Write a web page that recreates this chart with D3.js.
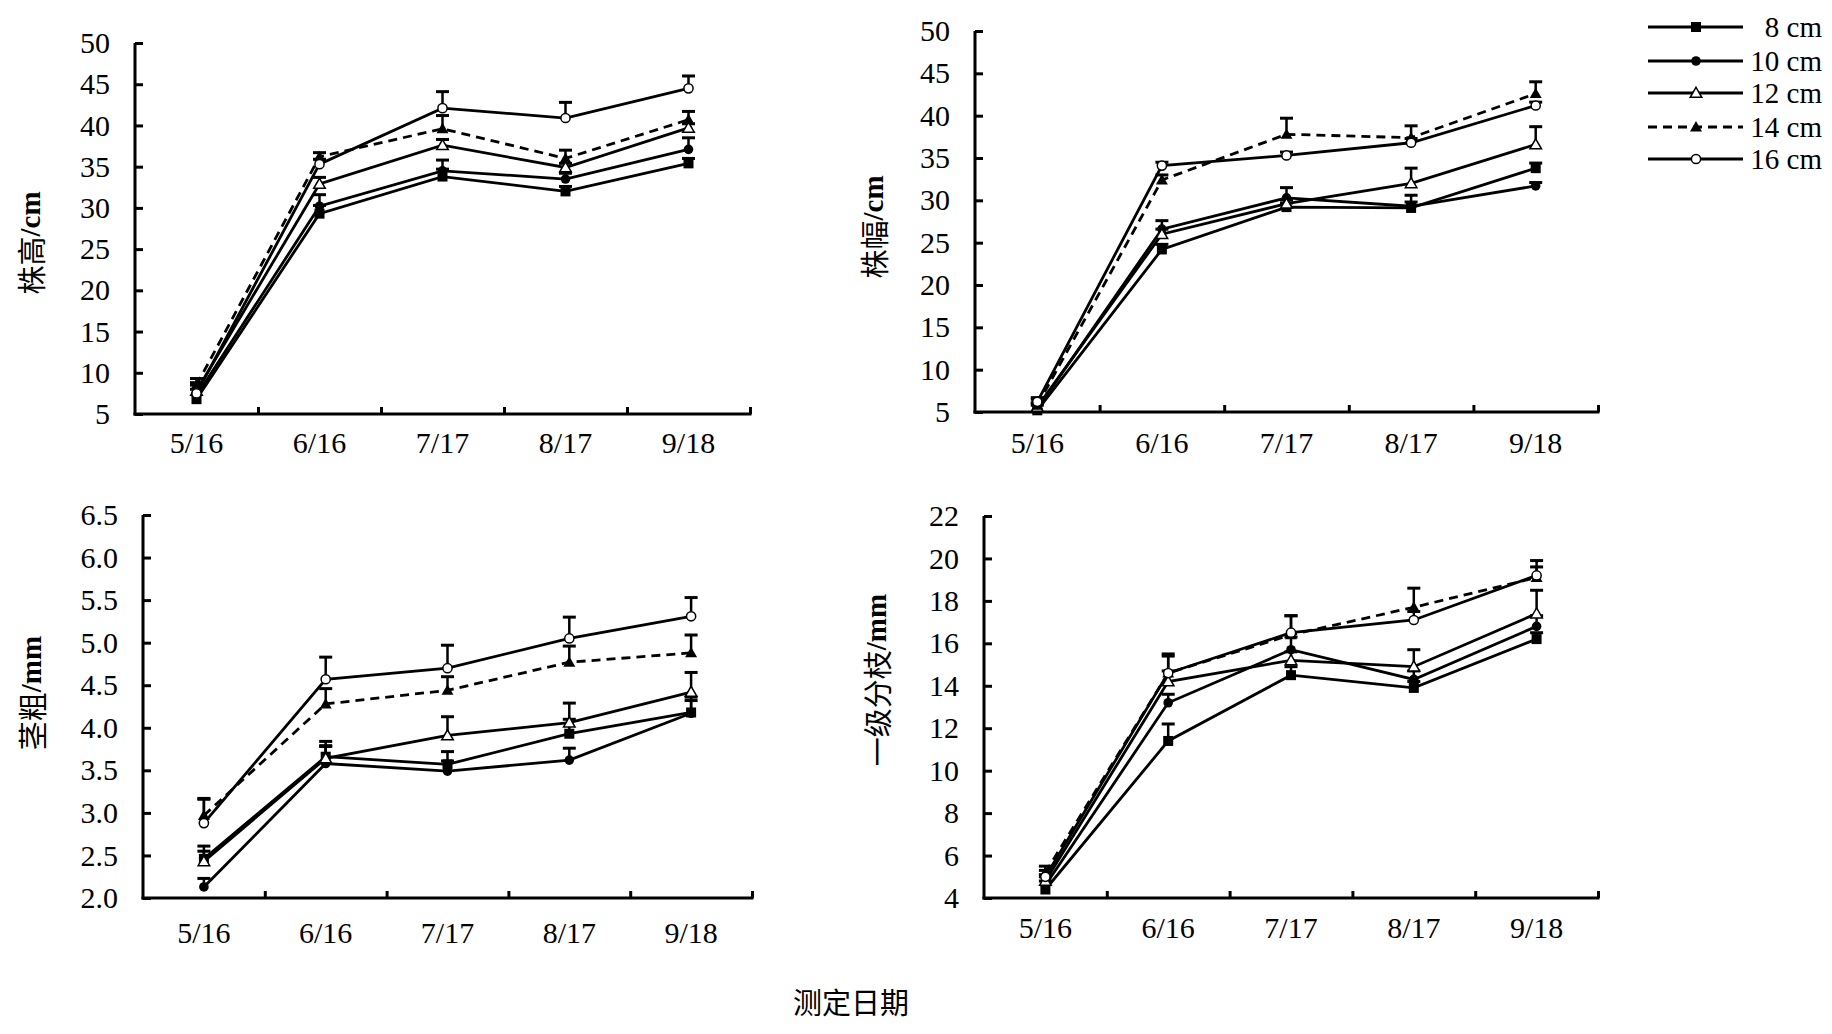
<!DOCTYPE html>
<html><head><meta charset="utf-8">
<script src="https://cdn.jsdelivr.net/npm/d3@7"></script>
<style>
html,body{margin:0;padding:0;background:#fff;}
svg{display:block;}
text{fill:#000;}
</style></head>
<body>
<svg id="chart" width="1832" height="1034"></svg>
<script>
// ---------- data ----------
const dates = ["5/16", "6/16", "7/17", "8/17", "9/18"];
const seriesNames = ["8 cm", "10 cm", "12 cm", "14 cm", "16 cm"];

// 株高 /cm  (rows = 8,10,12,14,16 cm)
const heightVals = [
  [6.8, 29.3, 33.8, 32.0, 35.4],
  [7.2, 30.2, 34.5, 33.5, 37.1],
  [7.8, 32.9, 37.6, 34.9, 39.7],
  [8.5, 36.2, 39.6, 36.0, 40.7],
  [7.5, 35.3, 42.1, 40.9, 44.5]
];
const heightErr = [
  [1.2, 1.0, 0.9, 0.6, 0.6],
  [1.4, 1.4, 1.3, 0.7, 1.4],
  [1.0, 0.8, 0.7, 0.5, 0.5],
  [0.8, 0.5, 1.6, 1.0, 1.0],
  [1.0, 0.6, 2.0, 1.9, 1.5]
];
const heightTicks = [5, 10, 15, 20, 25, 30, 35, 40, 45, 50];

// 株幅 /cm
const widthVals = [
  [5.2, 24.2, 29.2, 29.1, 33.8],
  [5.4, 26.6, 30.3, 29.3, 31.7],
  [5.6, 26.0, 29.6, 32.0, 36.6],
  [5.8, 32.4, 37.8, 37.4, 42.6],
  [6.2, 34.1, 35.3, 36.8, 41.2]
];
const widthErr = [
  [0.6, 0.6, 0.5, 1.5, 0.6],
  [0.6, 1.0, 1.2, 0.5, 0.4],
  [0.5, 0.6, 0.5, 1.8, 2.1],
  [0.7, 0.6, 1.9, 1.4, 1.4],
  [0.5, 0.4, 0.4, 0.5, 0.4]
];
const widthTicks = [5, 10, 15, 20, 25, 30, 35, 40, 45, 50];

// 茎粗 /mm
const diamVals = [
  [2.46, 3.66, 3.57, 3.93, 4.18],
  [2.13, 3.58, 3.49, 3.62, 4.17],
  [2.43, 3.64, 3.91, 4.06, 4.42],
  [2.97, 4.28, 4.44, 4.77, 4.88],
  [2.88, 4.57, 4.70, 5.05, 5.31]
];
const diamErr = [
  [0.15, 0.18, 0.15, 0.17, 0.18],
  [0.10, 0.20, 0.12, 0.14, 0.15],
  [0.12, 0.15, 0.22, 0.23, 0.23],
  [0.20, 0.18, 0.16, 0.19, 0.21],
  [0.28, 0.26, 0.27, 0.25, 0.22]
];
const diamTicks = [2.0, 2.5, 3.0, 3.5, 4.0, 4.5, 5.0, 5.5, 6.0, 6.5];

// 一级分枝 /mm
const branchVals = [
  [4.4, 11.4, 14.5, 13.9, 16.2],
  [4.6, 13.2, 15.7, 14.3, 16.8],
  [4.8, 14.2, 15.2, 14.9, 17.4],
  [5.2, 14.6, 16.4, 17.7, 19.1],
  [5.0, 14.6, 16.5, 17.1, 19.2]
];
const branchErr = [
  [0.4, 0.8, 0.4, 0.3, 0.3],
  [0.4, 0.4, 0.6, 0.4, 0.5],
  [0.3, 0.5, 0.4, 0.8, 1.1],
  [0.3, 0.8, 0.9, 0.9, 0.8],
  [0.3, 0.9, 0.8, 0.4, 0.4]
];
const branchTicks = [4, 6, 8, 10, 12, 14, 16, 18, 20, 22];

// ---------- layout & style ----------
const serif = "'Liberation Serif','Times New Roman',serif";
const cjk = "'Noto Sans CJK SC','Liberation Serif',serif";
const markerTypes = ["square", "circle", "triangleOpen", "triangle", "circleOpen"];
const dashes = [null, null, null, "9,6", null];

const panels = [
  {vals: heightVals, errs: heightErr, ticks: heightTicks, fmt: d3.format("d"),
   cjkTitle: "株高", unit: "/cm", x0: 135, x1: 750, y0: 414, y1: 43, tx: 30, ty: 243, lblPad: 18},
  {vals: widthVals, errs: widthErr, ticks: widthTicks, fmt: d3.format("d"),
   cjkTitle: "株幅", unit: "/cm", x0: 975, x1: 1598, y0: 412, y1: 31, tx: 873, ty: 227, lblPad: 20},
  {vals: diamVals, errs: diamErr, ticks: diamTicks, fmt: d3.format(".1f"),
   cjkTitle: "茎粗", unit: "/mm", x0: 143, x1: 752, y0: 898, y1: 515, tx: 31, ty: 693, lblPad: 24},
  {vals: branchVals, errs: branchErr, ticks: branchTicks, fmt: d3.format("d"),
   cjkTitle: "一级分枝", unit: "/mm", x0: 984, x1: 1598, y0: 898, y1: 516, tx: 876, ty: 680, lblPad: 19}
];

const svg = d3.select("#chart");

function drawMarker(g, type, x, y) {
  const tri = (s) => d3.symbol().type(d3.symbolTriangle).size(s)();
  if (type === "square") {
    g.append("rect").attr("x", x - 5).attr("y", y - 5).attr("width", 10).attr("height", 10)
      .attr("fill", "#000");
  } else if (type === "circle") {
    g.append("circle").attr("cx", x).attr("cy", y).attr("r", 4.8).attr("fill", "#000");
  } else if (type === "circleOpen") {
    g.append("circle").attr("cx", x).attr("cy", y).attr("r", 4.6).attr("fill", "#fff")
      .attr("stroke", "#000").attr("stroke-width", 1.5);
  } else if (type === "triangle") {
    g.append("path").attr("d", tri(62)).attr("transform", `translate(${x},${y + 1})`).attr("fill", "#000");
  } else if (type === "triangleOpen") {
    g.append("path").attr("d", tri(58)).attr("transform", `translate(${x},${y + 1})`).attr("fill", "#fff")
      .attr("stroke", "#000").attr("stroke-width", 1.5);
  }
}

panels.forEach(p => {
  const g = svg.append("g");
  const x = d3.scaleBand().domain(dates).range([p.x0, p.x1]).paddingInner(0).paddingOuter(0);
  const xb = d3.scaleLinear().domain([0, dates.length]).range([p.x0, p.x1]);
  const y = d3.scaleLinear().domain([p.ticks[0], p.ticks[p.ticks.length - 1]]).range([p.y0, p.y1]);
  const cx = d => x(d) + x.bandwidth() / 2;

  // y axis
  const ya = g.append("g").attr("transform", `translate(${p.x0},0)`)
    .call(d3.axisLeft(y).tickValues(p.ticks).tickFormat(p.fmt).tickSize(-8).tickPadding(25).tickSizeOuter(0));
  ya.select(".domain").attr("stroke-width", 3).attr("d", `M0,${p.y0 + 1.5}V${p.y1}`);
  ya.selectAll(".tick line").attr("stroke-width", 3);
  ya.selectAll("text").attr("font-family", serif).attr("font-size", 30);

  // x axis: line + inward ticks at band boundaries
  const xa = g.append("g").attr("transform", `translate(0,${p.y0})`)
    .call(d3.axisBottom(xb).tickValues(d3.range(1, dates.length + 1)).tickFormat("").tickSize(-7).tickSizeOuter(0));
  xa.select(".domain").attr("stroke-width", 3).attr("d", `M${p.x0 - 1.5},0H${p.x1 + 1.5}`);
  xa.selectAll(".tick line").attr("stroke-width", 3);
  // category labels
  const xl = g.append("g").attr("transform", `translate(0,${p.y0})`)
    .call(d3.axisBottom(x).tickSize(0).tickPadding(p.lblPad));
  xl.select(".domain").remove();
  xl.selectAll("text").attr("font-family", serif).attr("font-size", 30);

  // y title
  const t = g.append("text").attr("transform", `translate(${p.tx},${p.ty}) rotate(-90)`)
    .attr("text-anchor", "middle").attr("dominant-baseline", "central");
  t.append("tspan").attr("font-family", cjk).attr("font-size", 29).text(p.cjkTitle);
  t.append("tspan").attr("font-family", serif).attr("font-weight", "bold").attr("font-size", 29).text(p.unit);

  // lines
  const line = d3.line().x((d, i) => cx(dates[i])).y(d => y(d));
  p.vals.forEach((vals, s) => {
    g.append("path").attr("d", line(vals)).attr("fill", "none").attr("stroke", "#000")
      .attr("stroke-width", 2.8).attr("stroke-dasharray", dashes[s]);
  });
  // error bars (upper only)
  p.vals.forEach((vals, s) => {
    vals.forEach((v, i) => {
      const xx = cx(dates[i]);
      const top = y(v + p.errs[s][i]);
      g.append("line").attr("x1", xx).attr("x2", xx).attr("y1", y(v)).attr("y2", top)
        .attr("stroke", "#000").attr("stroke-width", 2.5);
      g.append("line").attr("x1", xx - 6.5).attr("x2", xx + 6.5).attr("y1", top).attr("y2", top)
        .attr("stroke", "#000").attr("stroke-width", 3);
    });
  });
  // markers
  p.vals.forEach((vals, s) => {
    vals.forEach((v, i) => drawMarker(g, markerTypes[s], cx(dates[i]), y(v)));
  });
});

// legend
const lg = svg.append("g");
const lx0 = 1648, lx1 = 1743, lmx = 1696, ltx = 1822;
const lys = [27, 61, 93, 127, 159];
seriesNames.forEach((name, s) => {
  const yy = lys[s];
  lg.append("line").attr("x1", lx0).attr("x2", lx1).attr("y1", yy).attr("y2", yy)
    .attr("stroke", "#000").attr("stroke-width", 2.8).attr("stroke-dasharray", dashes[s]);
  drawMarker(lg, markerTypes[s], lmx, yy);
  lg.append("text").attr("x", ltx).attr("y", yy).attr("text-anchor", "end")
    .attr("dominant-baseline", "central").attr("font-family", serif).attr("font-size", 29).text(name);
});

// shared x title
svg.append("text").attr("x", 851).attr("y", 1001).attr("text-anchor", "middle")
  .attr("dominant-baseline", "central").attr("font-family", cjk).attr("font-size", 29).text("测定日期");
</script>
</body></html>
